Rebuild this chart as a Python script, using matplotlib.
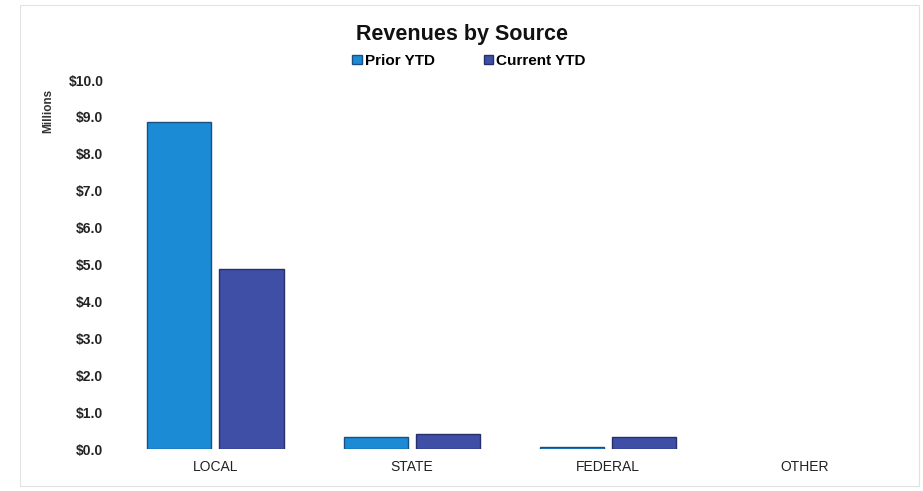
import numpy as np
import matplotlib.pyplot as plt
from matplotlib.patches import Patch

plt.rcParams['font.family'] = ['Liberation Sans', 'DejaVu Sans']

# Revenues in millions of dollars
categories = ['LOCAL', 'STATE', 'FEDERAL', 'OTHER']
prior_ytd = [8.87, 0.33, 0.05, 0.0]
current_ytd = [4.88, 0.41, 0.32, 0.0]
y_ticks = np.arange(0, 11, 1)

prior_color = '#1b8bd6'
current_color = '#3f4fa6'

fig = plt.figure(figsize=(9.23, 4.91), dpi=100)
ax = fig.add_axes([0.127, 0.0855, 0.851, 0.7515])

x = np.arange(len(categories))
w = 0.327
gap = 0.02
# no outline on empty bars so nothing shows at the baseline
prior_edges = ['#1a4f80' if v > 0 else 'none' for v in prior_ytd]
current_edges = ['#25306a' if v > 0 else 'none' for v in current_ytd]
ax.bar(x - w / 2 - gap, prior_ytd, width=w, color=prior_color,
       edgecolor=prior_edges, linewidth=1.0)
ax.bar(x + w / 2 + gap, current_ytd, width=w, color=current_color,
       edgecolor=current_edges, linewidth=1.0)

ax.set_xlim(-0.5, len(categories) - 0.5)
ax.set_ylim(0, 10)
ax.set_yticks(y_ticks)
ax.set_yticklabels([f'${v:.1f}' for v in y_ticks], fontweight='bold',
                   fontsize=10, color='#222222')
ax.set_xticks(x)
ax.set_xticklabels(categories, fontsize=10, color='#222222')
ax.tick_params(axis='x', length=0, pad=8)
ax.tick_params(axis='y', length=0, pad=10)
for s in ax.spines.values():
    s.set_visible(False)

fig.text(0.5, 0.93, 'Revenues by Source', ha='center', va='center',
         fontsize=15.5, fontweight='bold', color='#111111')
fig.text(0.052, 0.775, 'Millions', rotation=90, ha='center', va='center',
         fontsize=8.5, fontweight='bold', color='#333333')

handles = [Patch(facecolor=prior_color, edgecolor='#1a4f80', label='Prior YTD'),
           Patch(facecolor=current_color, edgecolor='#25306a', label='Current YTD')]
leg = fig.legend(handles=handles, loc='center', bbox_to_anchor=(0.508, 0.876),
                 ncol=2, frameon=False, handlelength=0.6, handleheight=0.6,
                 handletextpad=0.2, columnspacing=3.2,
                 prop={'weight': 'bold', 'size': 11})

# light frame around the chart
fig.patches.append(plt.Rectangle((0.022, 0.01), 0.974, 0.98, transform=fig.transFigure,
                                 fill=False, edgecolor='#e2e2e2', linewidth=0.8))

fig.savefig('out.png', dpi=100)
